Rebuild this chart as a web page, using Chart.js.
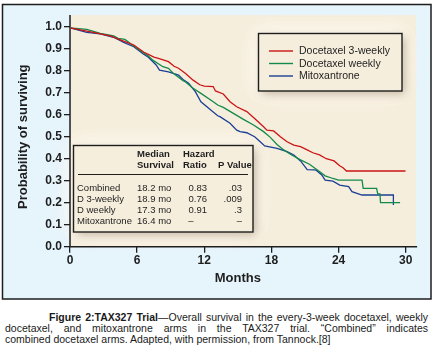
<!DOCTYPE html>
<html><head><meta charset="utf-8">
<script src="https://cdn.jsdelivr.net/npm/chart.js@4.4.0/dist/chart.umd.min.js"></script>
<style>
html,body{margin:0;padding:0;background:#fff;width:433px;height:348px;overflow:hidden;}
#wrap{position:absolute;left:0;top:0;width:433px;height:300px;}
.cap{position:absolute;font-family:"Liberation Sans",Arial,sans-serif;font-size:10.5px;line-height:11px;color:#1a1a1a;text-align:justify;text-align-last:justify;}
.cap.last{text-align:left;text-align-last:left;}
</style></head>
<body>
<div id="wrap"><canvas id="c"></canvas></div>
<div class="cap" style="left:49px;top:312px;width:379px;"><b>Figure 2:TAX327 Trial</b>—Overall survival in the every-3-week docetaxel, weekly</div>
<div class="cap" style="left:5px;top:323px;width:423px;">docetaxel, and mitoxantrone arms in the TAX327 trial. “Combined” indicates</div>
<div class="cap last" style="left:5px;top:334px;width:423px;">combined docetaxel arms. Adapted, with permission, from Tannock.[8]</div>
<script>
// ---- data ----
const seriesNames = ['Docetaxel 3-weekly', 'Docetaxel weekly', 'Mitoxantrone'];
const seriesColors = ['#cc1414', '#138a4a', '#1b3f94'];

const d3wMonths = [0,1.5,3.6,4.5,5.7,6.6,7.0,7.5,7.9,8.8,9.3,9.7,10.3,11.0,11.6,12.0,12.8,13.0,13.7,14.3,14.9,15.8,16.5,17.3,17.6,18.2,18.8,19.4,20.0,20.6,21.2,21.7,22.3,22.9,23.6,24.1,24.4,24.7,30.0];
const d3wSurv   = [0.995,0.98,0.958,0.94,0.917,0.884,0.874,0.862,0.856,0.841,0.82,0.811,0.788,0.757,0.736,0.730,0.728,0.708,0.694,0.659,0.636,0.614,0.583,0.545,0.530,0.526,0.500,0.477,0.462,0.455,0.440,0.427,0.417,0.400,0.390,0.368,0.359,0.344,0.344];

const dwMonths = [0,1.5,2.7,3.9,4.3,4.9,5.7,6.55,7.0,7.4,8.3,8.8,9.2,10.1,10.3,11.0,11.7,12.8,13.2,13.7,14.6,15.5,16.4,17.3,17.9,18.5,19.1,19.7,20.6,21.4,22.2,22.8,23.5,24.0,26.1,26.2,27.4,27.5,27.7,27.75,29.5];
const dwSurv   = [0.995,0.988,0.97,0.958,0.947,0.942,0.912,0.882,0.867,0.848,0.818,0.811,0.79,0.755,0.75,0.72,0.697,0.659,0.644,0.633,0.606,0.579,0.553,0.523,0.497,0.465,0.44,0.42,0.395,0.375,0.345,0.322,0.310,0.303,0.303,0.265,0.265,0.240,0.240,0.200,0.200];

const mitoMonths = [0,1.5,2.7,3.9,4.8,5.7,6.55,7.0,7.7,8.0,8.8,9.7,10.1,10.6,11.2,11.7,12.5,13.2,13.4,14.3,14.9,15.2,15.8,16.5,17.0,17.4,18.5,19.4,20.0,20.6,21.2,21.8,22.0,22.5,22.8,23.5,24.1,24.9,25.2,26.1,28.9,28.9];
const mitoSurv   = [0.995,0.974,0.967,0.952,0.929,0.909,0.876,0.861,0.826,0.803,0.795,0.780,0.760,0.743,0.705,0.659,0.625,0.595,0.591,0.561,0.530,0.523,0.518,0.500,0.477,0.458,0.447,0.432,0.417,0.390,0.350,0.349,0.348,0.326,0.303,0.298,0.280,0.273,0.250,0.235,0.235,0.190];

const xTicks = [0, 6, 12, 18, 24, 30];
const yTicks = [0, 0.1, 0.2, 0.3, 0.4, 0.5, 0.6, 0.7, 0.8, 0.9, 1.0];
const xTitle = 'Months';
const yTitle = 'Probability of surviving';

// summary table
const tableHeader1 = ['Median', 'Hazard', ''];
const tableHeader2 = ['Survival', 'Ratio', 'P Value'];
const tableArms    = ['Combined', 'D 3-weekly', 'D weekly', 'Mitoxantrone'];
const tableMedian  = ['18.2 mo', '18.9 mo', '17.3 mo', '16.4 mo'];
const tableHR      = ['0.83', '0.76', '0.91', '–'];
const tableP       = ['.03', '.009', '.3', '–'];

// ---- chart ----
const FONT = '"Liberation Sans", Arial, Helvetica, sans-serif';
Chart.defaults.font.family = FONT;
const INK = '#1e1e1e';
const BEIGE = '#f6eedd';

function pts(xs, ys) { return xs.map((x, i) => ({x: x, y: ys[i]})); }

const decor = {
  id: 'decor',
  beforeDraw(chart) {
    const ctx = chart.ctx;
    const xs = chart.scales.x, ys = chart.scales.y;
    ctx.save();
    ctx.fillStyle = '#ffffff';
    ctx.fillRect(0, 0, chart.width, chart.height);
    // outer panel
    ctx.fillStyle = '#e6f4fc';
    ctx.fillRect(2.5, 4.5, 428.5, 294.5);
    // plot background
    const bx0 = xs.getPixelForValue(0), bx1 = xs.getPixelForValue(30.93);
    const by0 = ys.getPixelForValue(1.053), by1 = ys.getPixelForValue(0);
    ctx.fillStyle = BEIGE;
    ctx.fillRect(bx0, by0, bx1 - bx0, by1 - by0);

    function box(x, y, w, h) {
      ctx.save();
      ctx.shadowColor = 'rgba(255,251,242,0.95)';
      ctx.shadowBlur = 22;
      ctx.fillStyle = BEIGE;
      ctx.fillRect(x, y, w, h);
      ctx.fillRect(x, y, w, h);
      ctx.restore();
      ctx.save();
      ctx.shadowColor = 'rgba(120,88,55,0.45)';
      ctx.shadowBlur = 9;
      ctx.shadowOffsetX = 3;
      ctx.shadowOffsetY = 3;
      ctx.fillStyle = BEIGE;
      ctx.fillRect(x, y, w, h);
      ctx.restore();
      ctx.strokeStyle = INK;
      ctx.lineWidth = 1.4;
      ctx.strokeRect(x, y, w, h);
    }
    // legend box
    box(258.5, 33.5, 143.5, 57.5);
    ctx.textBaseline = 'middle';
    ctx.textAlign = 'left';
    ctx.font = '10.5px ' + FONT;
    const legY = [51, 63.5, 76];
    chart.data.datasets.forEach((ds, i) => {
      ctx.strokeStyle = ds.borderColor;
      ctx.lineWidth = 1.4;
      ctx.beginPath();
      ctx.moveTo(269, legY[i]);
      ctx.lineTo(293, legY[i]);
      ctx.stroke();
      ctx.fillStyle = INK;
      ctx.fillText(ds.label, 299, legY[i] + 0.5);
    });

    // table box
    box(73.5, 145.5, 179.5, 86.5);
    ctx.fillStyle = INK;
    ctx.font = 'bold 9.5px ' + FONT;
    const hx = [137, 183, 218];
    tableHeader1.forEach((t, i) => ctx.fillText(t, hx[i], 154.5));
    tableHeader2.forEach((t, i) => ctx.fillText(t, hx[i], 165.5));
    ctx.strokeStyle = INK; ctx.lineWidth = 1;
    ctx.beginPath(); ctx.moveTo(78, 174.5); ctx.lineTo(248, 174.5); ctx.stroke();
    ctx.font = '9.5px ' + FONT;
    const rowY = [188, 199, 210, 221];
    tableArms.forEach((t, i) => {
      const y = rowY[i] + 0.5;
      ctx.textAlign = 'left';
      ctx.fillText(t, 77, y);
      ctx.fillText(tableMedian[i], 137, y);
      if (tableHR[i] === '–') { ctx.textAlign = 'center'; ctx.fillText(tableHR[i], 191, y); }
      else { ctx.textAlign = 'right'; ctx.fillText(tableHR[i], 207, y); }
      ctx.textAlign = 'right';
      ctx.fillText(tableP[i], 242, y);
    });

    // axis lines
    ctx.strokeStyle = INK;
    ctx.lineWidth = 1.5;
    ctx.beginPath();
    ctx.moveTo(bx0, by0);
    ctx.lineTo(bx0, by1);
    ctx.lineTo(bx1 + 1, by1);
    ctx.stroke();

    // panel border
    ctx.strokeStyle = INK;
    ctx.lineWidth = 1.5;
    ctx.strokeRect(2.5, 4.5, 428.5, 294.5);
    ctx.restore();
  }
};

new Chart(document.getElementById('c'), {
  type: 'line',
  data: {
    datasets: [
      {label: seriesNames[0], data: pts(d3wMonths, d3wSurv), borderColor: seriesColors[0]},
      {label: seriesNames[1], data: pts(dwMonths, dwSurv), borderColor: seriesColors[1]},
      {label: seriesNames[2], data: pts(mitoMonths, mitoSurv), borderColor: seriesColors[2]}
    ].map(d => Object.assign(d, {borderWidth: 1.3, pointRadius: 0, tension: 0, fill: false}))
  },
  options: {
    responsive: true,
    maintainAspectRatio: false,
    animation: false,
    devicePixelRatio: 1,
    layout: {padding: {left: 0, right: 27.3, top: 26.7, bottom: 0}},
    plugins: {legend: {display: false}, tooltip: {enabled: false}},
    scales: {
      x: {
        type: 'linear', min: 0, max: 30,
        afterBuildTicks: ax => { ax.ticks = xTicks.map(v => ({value: v})); },
        afterFit: ax => { ax.height = 53.3; },
        border: {display: false},
        grid: {drawOnChartArea: false, drawTicks: true, tickLength: 6, color: INK, lineWidth: 1.3},
        ticks: {font: {size: 12, weight: 'bold'}, color: INK, padding: 1, maxRotation: 0, autoSkip: false},
        title: {display: true, text: xTitle, color: INK, font: {size: 13, weight: 'bold'}, padding: {top: 0, bottom: 14.2}}
      },
      y: {
        type: 'linear', min: 0, max: 1,
        afterBuildTicks: ax => { ax.ticks = yTicks.map(v => ({value: v})); },
        afterFit: ax => { ax.width = 70; },
        border: {display: false},
        grid: {drawOnChartArea: false, drawTicks: true, tickLength: 6, color: INK, lineWidth: 1.3},
        ticks: {font: {size: 12, weight: 'bold'}, color: INK, padding: 2, autoSkip: false, callback: v => v.toFixed(1)},
        title: {display: true, text: yTitle, color: INK, font: {size: 13, weight: 'bold'}, padding: {top: 15.2, bottom: 0}}
      }
    }
  },
  plugins: [decor]
});
</script>
</body></html>
